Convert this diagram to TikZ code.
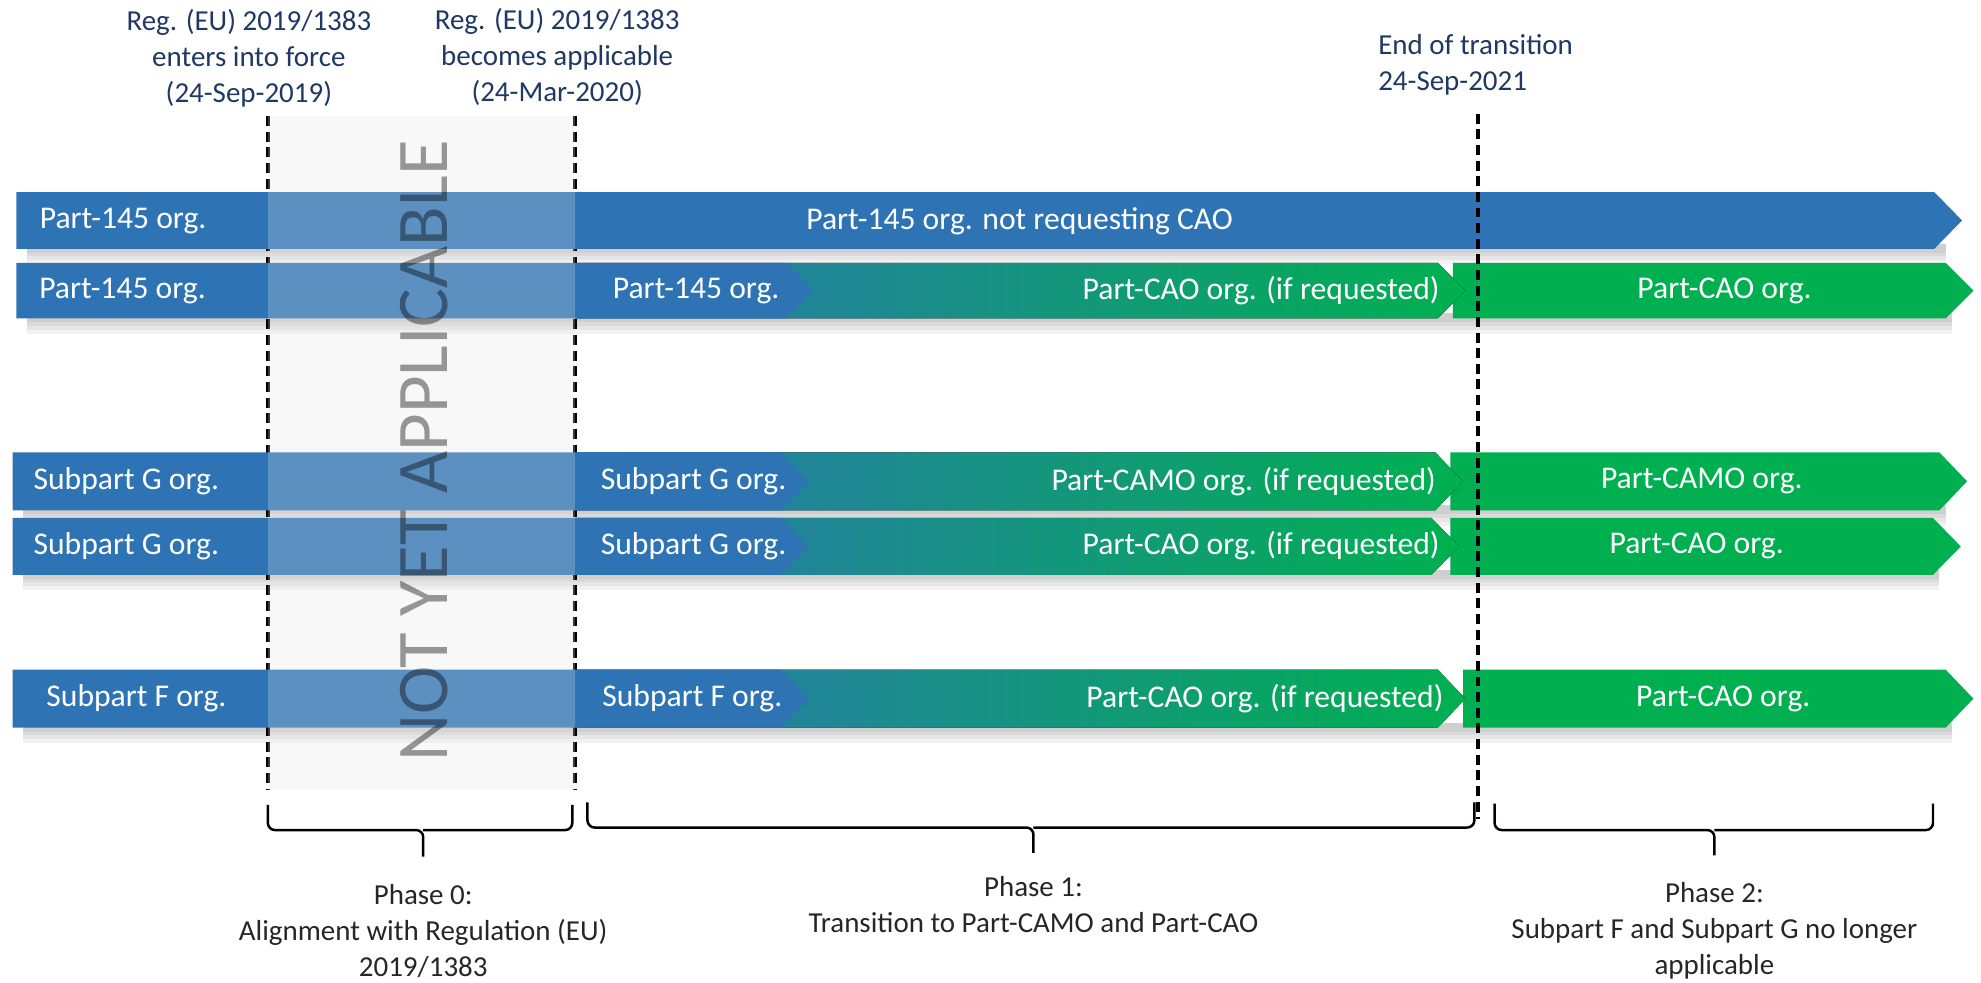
\documentclass[tikz,border=0pt]{standalone}
\usepackage{fontspec}
\setmainfont{Carlito}
\usetikzlibrary{calc,positioning}

\definecolor{barblue}{HTML}{2E74B5}
\definecolor{bargreen}{HTML}{00B050}
\definecolor{regnavy}{HTML}{203864}

% style, x start, x end (body), y top, y bottom
\newcommand{\chevron}[5]{%
  \fill[#1] (#2,#4) -- (#3,#4) -- ({#3+22},{(#4+#5)/2}) -- (#3,#5) -- (#2,#5) -- cycle;}
% x start, x end, y bottom
\newcommand{\barshadow}[3]{%
  \foreach \s in {3,6,9,12} {\fill[black,opacity=0.05] ({#1+8},{#3-4}) rectangle (#2,{#3+\s});}}

\begin{document}
\begin{tikzpicture}[
                x=0.0125cm, y=-0.0125cm,
                bartext/.style={text=white,font=\fontsize{8.9}{10}\selectfont,inner sep=0pt},
                regtext/.style={text=regnavy,font=\fontsize{8.15}{10.1}\selectfont,align=center},
                phasetext/.style={text=black!85,font=\fontsize{8.15}{10.1}\selectfont,align=center},
                milestone/.style={black,line width=1pt,dash pattern=on 2.8pt off 1.6pt},
                phasebrace/.style={black,line width=0.7pt,rounded corners=2pt},
                blueseg/.style={fill=barblue},
                greenseg/.style={fill=bargreen},
                mixseg/.style={left color=barblue!95!bargreen,right color=bargreen}
            ]
                \useasboundingbox (0,0) rectangle (1568,778);

                % milestones
                \node[regtext] (force) at (197,46) {Reg. (EU) 2019/1383\\enters into force\\(24-Sep-2019)};
                \node[regtext] (appl)  at (441,45) {Reg. (EU) 2019/1383\\becomes applicable\\(24-Mar-2020)};
                \node[regtext,align=left,anchor=west] (endtr) at (1081,51) {End of transition\\24-Sep-2021};
                \coordinate (force top) at (212,92);
                \coordinate (force bot) at (212,625);
                \coordinate (appl top)  at (455,92);
                \coordinate (appl bot)  at (455,625);
                \coordinate (end top)   at (1170,90);
                \coordinate (end bot)   at (1170,648);
                \draw[milestone] (force top) -- (force bot);
                \draw[milestone] (appl top) -- (appl bot);

                % row 1
                \barshadow{13}{1540}{197}
                \chevron{blueseg}{13}{1531}{152}{197}
                \node[bartext,anchor=west] (r1a) at (31,175) {Part-145 org.};
                \node[bartext] (r1b) at (807,175) {Part-145 org. not requesting CAO};

                % row 2
                \barshadow{13}{1545}{252}
                \chevron{greenseg}{1150}{1540}{208}{252}
                \chevron{mixseg}{455}{1138}{208}{252}
                \chevron{blueseg}{13}{622}{208}{252}
                \node[bartext] (r2a) at (97,230) {Part-145 org.};
                \node[bartext] (r2b) at (551,230) {Part-145 org.};
                \node[bartext,anchor=east] (r2c) at (1140,230) {Part-CAO org. (if requested)};
                \node[bartext] (r2d) at (1365,230) {Part-CAO org.};

                % row 3
                \barshadow{10}{1540}{404}
                \chevron{greenseg}{1148}{1535}{358}{404}
                \chevron{mixseg}{455}{1136}{358}{404}
                \chevron{blueseg}{10}{618}{358}{404}
                \node[bartext] (r3a) at (100,381) {Subpart G org.};
                \node[bartext] (r3b) at (549,381) {Subpart G org.};
                \node[bartext,anchor=east] (r3c) at (1137,381) {Part-CAMO org. (if requested)};
                \node[bartext] (r3d) at (1347,381) {Part-CAMO org.};

                % row 4
                \barshadow{10}{1535}{455}
                \chevron{greenseg}{1148}{1530}{410}{455}
                \chevron{mixseg}{455}{1133}{410}{455}
                \chevron{blueseg}{10}{618}{410}{455}
                \node[bartext] (r4a) at (100,432) {Subpart G org.};
                \node[bartext] (r4b) at (549,432) {Subpart G org.};
                \node[bartext,anchor=east] (r4c) at (1140,432) {Part-CAO org. (if requested)};
                \node[bartext] (r4d) at (1343,432) {Part-CAO org.};

                % row 5
                \barshadow{10}{1545}{576}
                \chevron{greenseg}{1158}{1540}{530}{576}
                \chevron{mixseg}{455}{1138}{530}{576}
                \chevron{blueseg}{10}{618}{530}{576}
                \node[bartext] (r5a) at (108,553) {Subpart F org.};
                \node[bartext] (r5b) at (548,553) {Subpart F org.};
                \node[bartext,anchor=east] (r5c) at (1143,553) {Part-CAO org. (if requested)};
                \node[bartext] (r5d) at (1364,553) {Part-CAO org.};

                % phase 0 window
                \fill[black!10,opacity=0.25] (force top) rectangle (appl bot);
                \node[rotate=90,text=black,opacity=0.4,font=\fontsize{20.5}{20.5}\selectfont] (nya) at (336,357) {NOT YET APPLICABLE};
                \draw[milestone] (end top) -- (end bot);

                % phases
                \draw[phasebrace] (212,637) |- (335,657) -- (335,678);
                \draw[phasebrace] (335,657) -| (453,637);
                \draw[phasebrace] (465,635) |- (818,655) -- (818,675);
                \draw[phasebrace] (818,655) -| (1167,635);
                \draw[phasebrace] (1183,636) |- (1357,657) -- (1357,677);
                \draw[phasebrace] (1357,657) -| (1530,636);
                \node[phasetext] (phase0) at (335,737) {Phase 0:\\Alignment with Regulation (EU)\\2019/1383};
                \node[phasetext] (phase1) at (818,716) {Phase 1:\\Transition to Part-CAMO and Part-CAO};
                \node[phasetext] (phase2) at (1357,737) {Phase 2:\\Subpart F and Subpart G no longer\\applicable};
            \end{tikzpicture}
\end{document}
